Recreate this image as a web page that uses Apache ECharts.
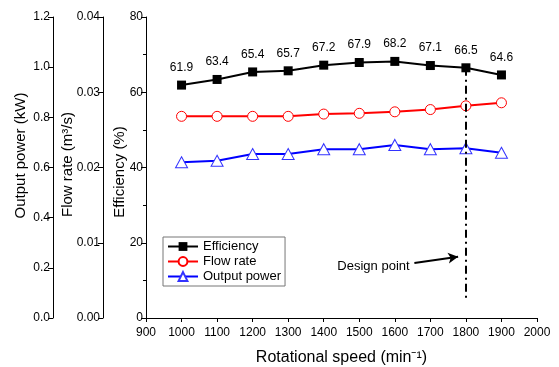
<!DOCTYPE html>
<html><head><meta charset="utf-8">
<script src="https://cdn.jsdelivr.net/npm/echarts@6/dist/echarts.min.js"></script>
<style>html,body{margin:0;padding:0;background:#fff}#c{width:559px;height:367px}</style>
</head><body><div id="c"></div>
<script>
const speeds = [1000, 1100, 1200, 1300, 1400, 1500, 1600, 1700, 1800, 1900];
const efficiency = [61.9, 63.4, 65.4, 65.7, 67.2, 67.9, 68.2, 67.1, 66.5, 64.6];
const flowRate = [0.0268, 0.0268, 0.0268, 0.0268, 0.0271, 0.0272, 0.0274, 0.0277, 0.0282, 0.0286];
const outputPower = [0.621, 0.627, 0.654, 0.654, 0.673, 0.673, 0.690, 0.673, 0.677, 0.659];
const designSpeed = 1800;

const FONT = 'Liberation Sans, Arial, sans-serif';
const pair = arr => speeds.map((s, i) => [s, arr[i]]);
const chart = echarts.init(document.getElementById('c'), null, {renderer: 'canvas'});

const axisCommon = {
  axisLine: {show: true, lineStyle: {color: '#000', width: 1}},
  axisTick: {show: true, inside: false, length: 5, lineStyle: {color: '#000'}},
  axisLabel: {color: '#000', fontSize: 12, fontFamily: FONT, margin: 3},
  splitLine: {show: false},
  nameLocation: 'middle',
  nameMoveOverlap: false
};
const nameStyle = pad => ({color: '#000', fontSize: 15, fontFamily: FONT, padding: pad});

const option = {
  animation: false,
  backgroundColor: '#fff',
  textStyle: {fontFamily: FONT},
  grid: {left: 146, right: 22, top: 17, bottom: 49, containLabel: false, outerBoundsMode: 'none'},
  legend: {
    orient: 'vertical', left: 163, top: 237,
    backgroundColor: '#fff',
    borderColor: '#777', borderWidth: 1, padding: [3, 4, 3, 4],
    itemGap: 2, itemWidth: 30, itemHeight: 11,
    textStyle: {color: '#000', fontSize: 13, fontFamily: FONT},
    data: ['Efficiency', 'Flow rate', 'Output power']
  },
  xAxis: Object.assign({}, axisCommon, {
    type: 'value', min: 900, max: 2000, interval: 100,
    name: 'Rotational speed (min\u207B\u00B9)', nameGap: 32,
    nameTextStyle: {color: '#000', fontSize: 16, fontFamily: FONT},
    axisTick: {show: true, inside: false, length: 4, lineStyle: {color: '#000'}},
    axisLabel: {color: '#000', fontSize: 12, fontFamily: FONT, margin: 9, formatter: v => String(v)}
  }),
  yAxis: [
    Object.assign({}, axisCommon, {
      type: 'value', min: 0, max: 80, interval: 20, position: 'left',
      name: 'Efficiency (%)', nameGap: 19, nameTextStyle: nameStyle([0, 9, 0, 0]),
      minorTick: {show: true, splitNumber: 2, length: 3, lineStyle: {color: '#000'}}
    }),
    Object.assign({}, axisCommon, {
      type: 'value', min: 0, max: 0.04, interval: 0.01, position: 'left', offset: 43,
      name: 'Flow rate (m\u00B3/s)', nameGap: 28, nameTextStyle: nameStyle([0, 0, 0, 6]),
      axisLabel: {color: '#000', fontSize: 12, fontFamily: FONT, margin: 3, formatter: v => v.toFixed(2)}
    }),
    Object.assign({}, axisCommon, {
      type: 'value', min: 0, max: 1.2, interval: 0.2, position: 'left', offset: 93,
      name: 'Output power (kW)', nameGap: 25, nameTextStyle: nameStyle([0, 0, 0, 24]),
      axisLabel: {color: '#000', fontSize: 12, fontFamily: FONT, margin: 3, formatter: v => v.toFixed(1)}
    })
  ],
  series: [
    {
      name: 'Efficiency', type: 'line', yAxisIndex: 0, data: pair(efficiency),
      symbol: 'rect', symbolSize: 9,
      itemStyle: {color: '#000'}, lineStyle: {color: '#000', width: 2},
      label: {show: true, position: 'top', distance: 7, color: '#000', fontSize: 12, fontFamily: FONT},
      z: 5,
      markLine: {
        silent: true, animation: false, label: {show: false},
        data: [
          [{coord: [designSpeed, 66.5], symbol: 'none', lineStyle: {color: '#000', width: 2, type: [8, 4, 2, 4]}},
           {coord: [designSpeed, 4.5], symbol: 'none'}],
          [{coord: [1655, 14.6], symbol: 'none', lineStyle: {color: '#000', width: 2, type: 'solid'}},
           {coord: [1778, 16.3], symbol: 'arrow', symbolSize: [8, 10]}]
        ]
      },
      markPoint: {
        silent: true, symbol: 'circle', symbolSize: 0,
        data: [{coord: [1540, 13.8], label: {show: true, position: 'inside', formatter: 'Design point', color: '#000', fontSize: 13, fontFamily: FONT}}]
      }
    },
    {
      name: 'Flow rate', type: 'line', yAxisIndex: 1, data: pair(flowRate),
      symbol: 'circle', symbolSize: 10,
      itemStyle: {color: '#fff', borderColor: '#ff0000', borderWidth: 1},
      lineStyle: {color: '#ff0000', width: 2}, z: 3
    },
    {
      name: 'Output power', type: 'line', yAxisIndex: 2, data: pair(outputPower),
      symbol: 'triangle', symbolSize: [12, 11],
      itemStyle: {color: '#fff', borderColor: '#3333ff', borderWidth: 1},
      lineStyle: {color: '#0000ff', width: 2}, z: 3
    }
  ]
};
chart.setOption(option);
</script>
</body></html>
